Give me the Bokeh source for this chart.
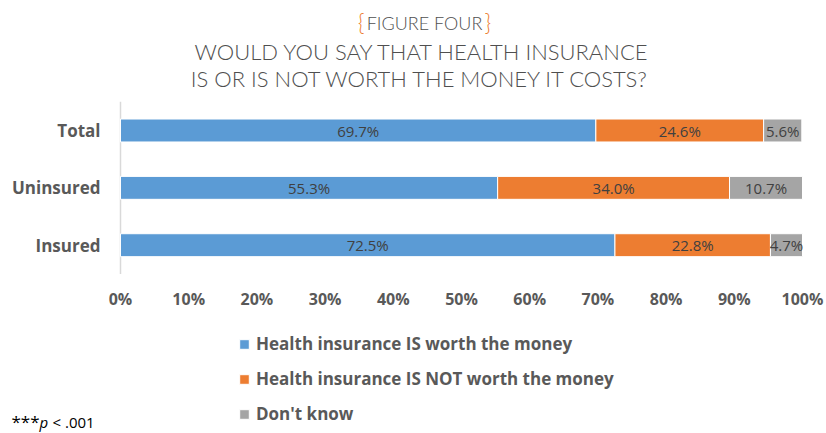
from bokeh.plotting import figure
from bokeh.models import Range1d, Label, Legend, LegendItem, ColumnDataSource
from bokeh.core.properties import value
from bokeh.embed import file_html
from bokeh.resources import INLINE

# ---- data ----
groups = ["Insured", "Uninsured", "Total"]          # bottom to top
worth = [72.5, 55.3, 69.7]
not_worth = [22.8, 34.0, 24.6]
dont_know = [4.7, 10.7, 5.6]
series_names = ["Health insurance IS worth the money",
                "Health insurance IS NOT worth the money",
                "Don't know"]
tick_values = [0, 10, 20, 30, 40, 50, 60, 70, 80, 90, 100]
tick_labels = ["0%", "10%", "20%", "30%", "40%", "50%", "60%", "70%", "80%", "90%", "100%"]
colors = ["#5B9BD5", "#ED7D31", "#A5A5A5"]

FONT = "Open Sans"
TFONT = "'Lato Light', Lato"
GRAY = "#595959"
W, H = 826, 433

# frame covers the whole canvas; ranges chosen so 0% sits at x=120px, 100% at 802px
PX_PER_PCT = 6.82
PX_PER_CAT = 57.35
x_start = -120 / PX_PER_PCT
x_end = 100 + (W - 802) / PX_PER_PCT
y_end = (len(groups) - 1) + 130 / PX_PER_CAT
y_start = -(H - 244.7) / PX_PER_CAT

p = figure(width=W, height=H, output_backend="svg", toolbar_location=None,
           x_range=Range1d(x_start, x_end), y_range=Range1d(y_start, y_end),
           min_border=0, outline_line_color=None, x_axis_type=None, y_axis_type=None)
p.xgrid.visible = False
p.ygrid.visible = False

ypos = list(range(len(groups)))

# vertical axis line spanning the category band
p.segment(x0=[0], x1=[0], y0=[-0.5], y1=[len(groups) - 0.5], line_color="#D9D9D9", line_width=1.5)

series = [worth, not_worth, dont_know]
lefts = [0.0] * len(groups)
renderers = []
for vals, col in zip(series, colors):
    rights = [l + v for l, v in zip(lefts, vals)]
    src = ColumnDataSource(dict(y=ypos, left=lefts, right=rights,
                                mid=[(l + r) / 2 for l, r in zip(lefts, rights)],
                                lab=[f"{v:.1f}%" for v in vals]))
    r = p.hbar(y="y", left="left", right="right", height=0.4, source=src,
               fill_color=col, line_color="white", line_width=1)
    renderers.append(r)
    p.text(x="mid", y="y", text="lab", source=src, text_align="center",
           text_baseline="middle", text_font=value(FONT), text_font_size="15px",
           text_color="#404040")
    lefts = rights

# x tick labels (x through the data scale)
for v, t in zip(tick_values, tick_labels):
    p.add_layout(Label(x=v, y=H - 298, x_units="data", y_units="screen", text=t,
                       text_font=FONT, text_font_style="bold", text_font_size="16px",
                       text_color=GRAY, text_align="center", text_baseline="middle"))

# category labels (y through the data scale)
for yv, g in zip(ypos, groups):
    p.add_layout(Label(x=100, y=yv, x_units="screen", y_units="data", text=g,
                       text_font=FONT, text_font_style="bold", text_font_size="17px",
                       text_color=GRAY, text_align="right", text_baseline="middle"))

# legend
legend = Legend(items=[LegendItem(label=n, renderers=[r]) for n, r in zip(series_names, renderers)],
                location=(238, 8), orientation="vertical",
                label_text_font=FONT, label_text_font_style="bold",
                label_text_font_size="17px", label_text_color=GRAY,
                glyph_width=12, glyph_height=12, label_height=20, spacing=12,
                label_standoff=6, padding=0, margin=0,
                border_line_color=None, background_fill_alpha=0)
p.add_layout(legend, "center")

def lab(text, x, y, size, color=GRAY, align="center", style="normal", font=TFONT):
    p.add_layout(Label(x=x, y=H - y, x_units="screen", y_units="screen", text=text,
                       text_font=font, text_font_size=size, text_color=color,
                       text_align=align, text_baseline="middle", text_font_style=style))

TCOL = "#4F4F4F"
lab("FIGURE FOUR", 424, 22, "18px", color=TCOL)
lab("{", 364, 21, "23px", color="#ED7D31", align="right")
lab("}", 484, 21, "23px", color="#ED7D31", align="left")
lab("WOULD YOU SAY THAT HEALTH INSURANCE", 422, 51, "22px", color=TCOL)
lab("IS OR IS NOT WORTH THE MONEY IT COSTS?", 420, 78, "22px", color=TCOL)

lab("***", 11, 421, "17px", color="#000000", align="left", font=FONT)
lab("p", 39, 421, "15px", color="#000000", align="left", style="italic", font=FONT)
lab("< .001", 52, 421, "15px", color="#000000", align="left", font=FONT)

open("out.html", "w").write(file_html(p, INLINE))
